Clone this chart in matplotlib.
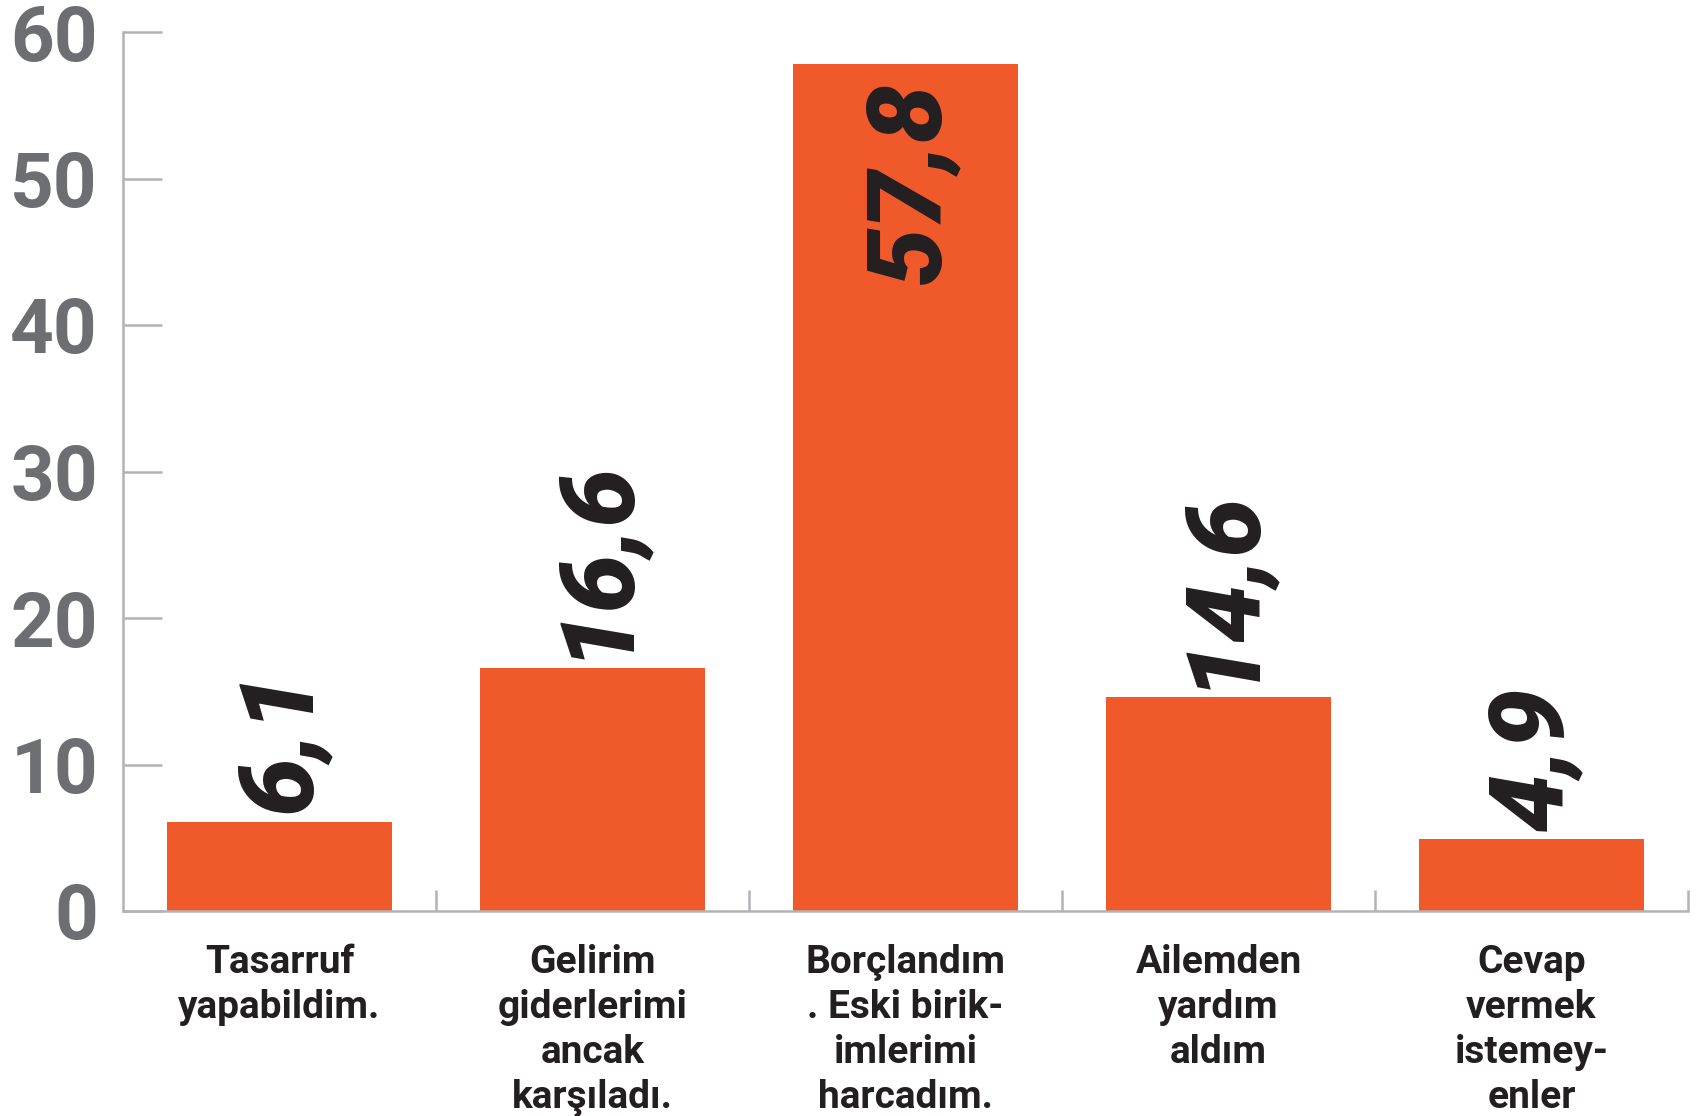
import matplotlib.pyplot as plt

categories = ["Tasarruf\nyapabildim.",
              "Gelirim\ngiderlerimi\nancak\nkarşıladı.",
              "Borçlandım\n. Eski birik-\nimlerimi\nharcadım.",
              "Ailemden\nyardım\naldım",
              "Cevap\nvermek\nistemey-\nenler"]
values = [6.1, 16.6, 57.8, 14.6, 4.9]
value_labels = ["6,1", "16,6", "57,8", "14,6", "4,9"]
yticks = [0, 10, 20, 30, 40, 50, 60]

orange = "#f0592a"
axis_gray = "#b1b3b6"
text_gray = "#6d6e71"
dark = "#231f20"

fig = plt.figure(figsize=(16.97, 11.16), dpi=100)
ax = fig.add_axes([123 / 1697, 205 / 1116, 1565 / 1697, 879 / 1116])

x = list(range(len(values)))
ax.bar(x, values, width=0.72, color=orange, zorder=2)

ax.set_xlim(-0.5, len(values) - 0.5)
ax.set_ylim(0, 60)

for s in ["top", "right"]:
    ax.spines[s].set_visible(False)
for s in ["left", "bottom"]:
    ax.spines[s].set_color(axis_gray)
    ax.spines[s].set_linewidth(1.8)

ax.set_yticks(yticks)
ax.set_yticklabels([str(v) for v in yticks], fontsize=55, fontweight="bold",
                   family="Roboto", color=text_gray)
ax.tick_params(axis="y", direction="in", length=28, width=1.8,
               color=axis_gray, pad=18)

# separators between categories
ax.set_xticks([i + 0.5 for i in x])
ax.set_xticklabels([])
ax.tick_params(axis="x", which="major", direction="in", length=15, width=1.8,
               color=axis_gray)
ax.set_xticks(x, minor=True)
ax.set_xticklabels(categories, minor=True, fontsize=28, fontweight="bold",
                   family="Roboto", color=dark, linespacing=1.27)
ax.tick_params(axis="x", which="minor", length=0, pad=24)

for xi, v, lab in zip(x, values, value_labels):
    if v > 40:
        ax.annotate(lab, (xi, v), xytext=(4, -12), textcoords="offset points",
                    rotation=90, ha="center", va="top", fontsize=75,
                    fontweight="black", style="italic", family="Roboto",
                    color=dark)
    else:
        ax.annotate(lab, (xi, v), xytext=(2, 6), textcoords="offset points",
                    rotation=90, ha="center", va="bottom", fontsize=75,
                    fontweight="black", style="italic", family="Roboto",
                    color=dark)

fig.savefig("out.png", dpi=100)
